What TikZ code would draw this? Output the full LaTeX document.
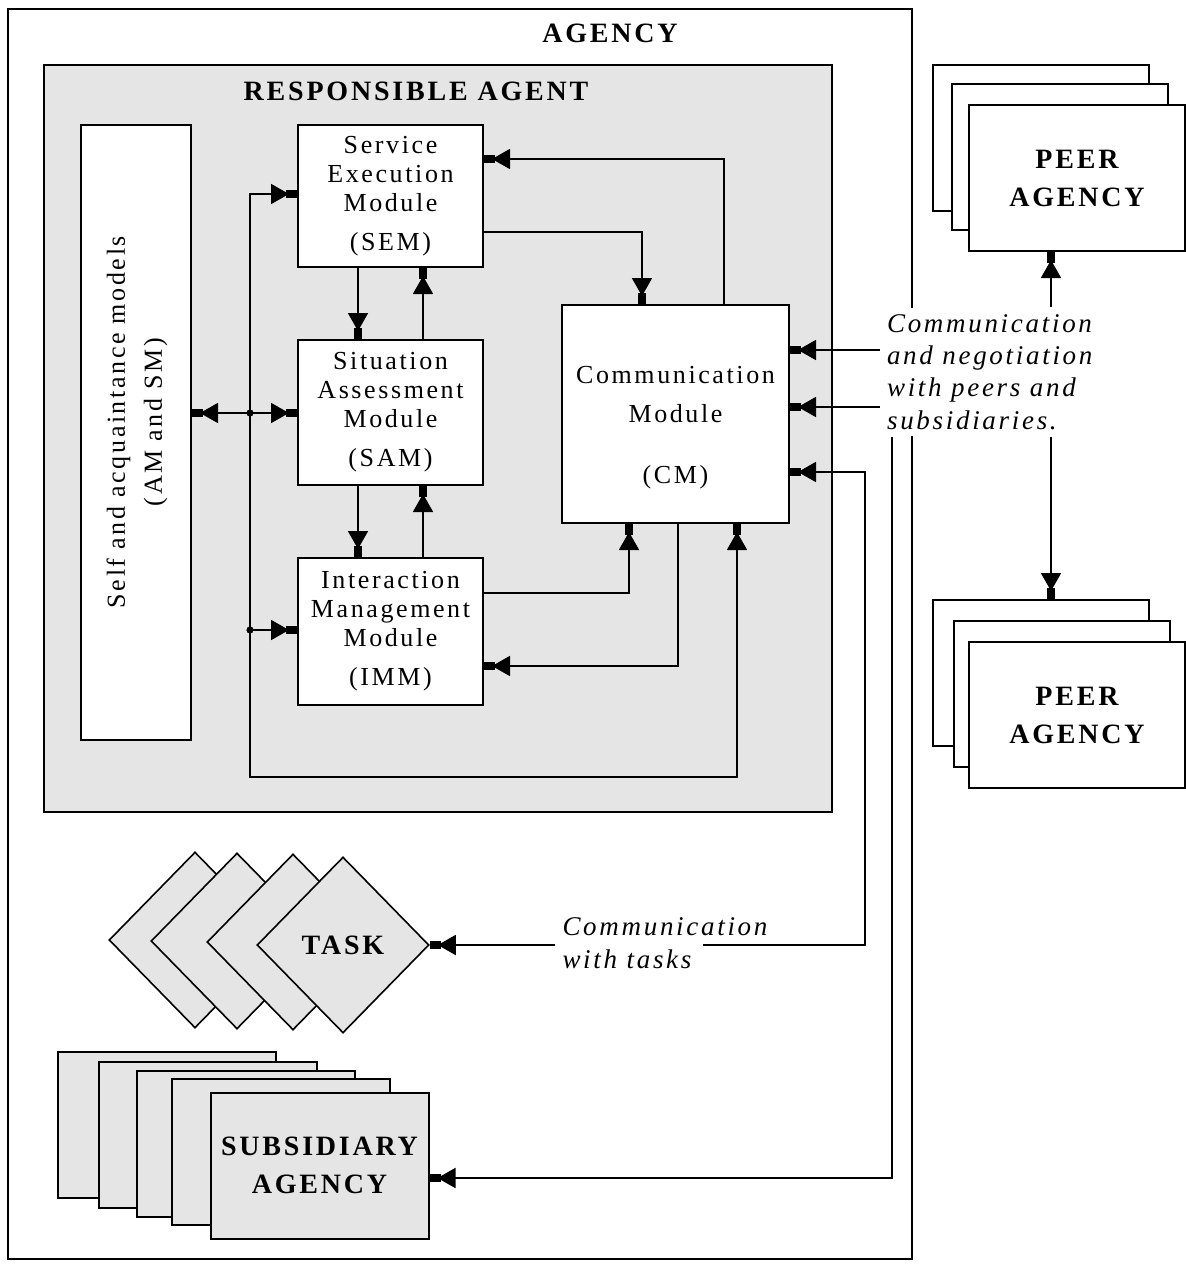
\documentclass[tikz,border=0pt]{standalone}
\usepackage{fontspec}
\setmainfont{Liberation Serif}[LetterSpace=10]
\usetikzlibrary{arrows.meta,shapes.geometric}
\definecolor{panel}{RGB}{229,229,229}
\tikzset{
	box/.style={draw, line width=1pt, fill=white, inner sep=0pt},
	modbox/.style={box, minimum width=92.5pt, align=center, font=\fontsize{13}{14.5}\selectfont},
	heading/.style={font=\bfseries\fontsize{14}{19}\selectfont, align=center},
	note/.style={font=\itshape\fontsize{13.5}{16.2}\selectfont, align=left},
	flow/.style={line width=0.9pt, -{Triangle[length=9pt,width=10pt,sep=-1.5pt] Rectangle[length=5.5pt,width=4pt]}},
	taskbox/.style={diamond, draw, line width=0.8pt, fill=panel, inner sep=0pt, minimum width=86pt, minimum height=88pt},
	subbox/.style={box, fill=panel, minimum width=109pt, minimum height=73pt},
	peerbox/.style={box, minimum width=108pt, minimum height=73pt}
}
\begin{document}
\begin{tikzpicture}[x=0.5pt,y=-0.5pt]
		\useasboundingbox (0,0) rectangle (1186,1264);
		% agency and responsible agent
		\node[box, minimum width=452pt, minimum height=625pt] (agency) at (460,633.5) {};
		\node[heading] (agencyTitle) at (610,33) {AGENCY};
		\node[box, fill=panel, minimum width=394pt, minimum height=373.5pt] (ra) at (438,438.5) {};
		\node[heading] (raTitle) at (416,91) {RESPONSIBLE AGENT};

		\node[box, minimum width=55pt, minimum height=307.5pt] (self) at (136,432.5) {};
		\node[rotate=90, align=center, font=\fontsize{13}{18.5}\selectfont] (selfTxt) at (137,422)
			{Self and acquaintance models\\(AM and SM)};

		\node[modbox, minimum height=71pt] (sem) at (390.5,196) {Service\\Execution\\Module\\[5pt](SEM)};
		\node[modbox, minimum height=72.5pt] (sam) at (390.5,412.5) {Situation\\Assessment\\Module\\[5pt](SAM)};
		\node[modbox, minimum height=73.5pt] (imm) at (390.5,631.5) {Interaction\\Management\\Module\\[5pt](IMM)};
		\node[modbox, minimum width=113.5pt, minimum height=109pt] (cm) at (675.5,414) {};
		\node[align=center, font=\fontsize{13}{14.5}\selectfont] (cmTxt) at (675.5,428)
			{Communication\\[5pt]Module\\[16pt](CM)};

		% module links
		\draw[flow] (cm.north -| 724,0) |- (sem.east |- 0,159);
		\draw[flow] (sem.east |- 0,232) -| (cm.north -| 642,0);
		\draw[flow] (sem.south -| 358,0) -- (sam.north -| 358,0);
		\draw[flow] (sam.north -| 423,0) -- (sem.south -| 423,0);
		\draw[flow] (sam.south -| 358,0) -- (imm.north -| 358,0);
		\draw[flow] (imm.north -| 423,0) -- (sam.south -| 423,0);
		\draw[flow] (imm.east |- 0,593) -| (cm.south -| 629,0);
		\draw[flow] (cm.south -| 678,0) |- (imm.east |- 0,666);

		\coordinate (busS) at (250,413);
		\coordinate (busI) at (250,630);
		\coordinate (busB) at (250,777);
		\draw[flow] (busS) |- (sem.west |- 0,194);
		\draw[flow] (busS) -- (sam.west |- busS);
		\draw[flow] (busS) -- (self.east |- busS);
		\draw[flow] (busI) -- (imm.west |- busI);
		\draw[flow] (busS) -- (busB) -| (cm.south -| 737,0);
		\fill (busS) circle (1.8pt);
		\fill (busI) circle (1.8pt);

		% peers
		\node[note, fill=white, anchor=west] (peerTxt) at (880,372)
			{Communication\\and negotiation\\with peers and\\subsidiaries.};
		\node[peerbox] (peerA1) at (1040.5,137.5) {};
		\node[peerbox] (peerA2) at (1059.5,156.5) {};
		\node[peerbox, heading] (peerA3) at (1077,178) {PEER\\AGENCY};
		\node[peerbox] (peerB1) at (1040.5,673) {};
		\node[peerbox] (peerB2) at (1062,693.5) {};
		\node[peerbox, heading] (peerB3) at (1077,715) {PEER\\AGENCY};

		\draw[flow] (peerTxt.north -| 1051,0) -- (peerA3.south -| 1051,0);
		\draw[flow] (peerTxt.south -| 1051,0) -- (peerB1.north -| 1051,0);
		\draw[flow] (peerTxt.west |- 0,350) -- (cm.east |- 0,350);
		\draw[flow] (peerTxt.west |- 0,407) -- (cm.east |- 0,407);

		% tasks
		\foreach \cx/\cy [count=\i] in {195/940, 237/941, 293/942}
			\node[taskbox] (task\i) at (\cx,\cy) {};
		\node[taskbox, heading] (task4) at (343,945) {TASK};
		\node[note] (taskTxt) at (665,943) {Communication\\with tasks};
		\coordinate (taskTxtR) at (703,945);
		\coordinate (tbend) at (865,472);
		\draw[flow] (taskTxtR) -| (tbend) -- (cm.east |- tbend);
		\draw[flow] (taskTxt.west |- task4.east) -- (task4.east);

		% subsidiaries
		\foreach \cx/\cy [count=\i] in {167/1125, 207.5/1134.5, 246/1144, 281/1152}
			\node[subbox] (sub\i) at (\cx,\cy) {};
		\node[subbox, heading] (sub5) at (319.5,1165.5) {SUBSIDIARY\\AGENCY};
		\draw[flow] (peerTxt.south -| 892,0) |- (sub5.east |- 0,1178);
	\end{tikzpicture}
\end{document}
